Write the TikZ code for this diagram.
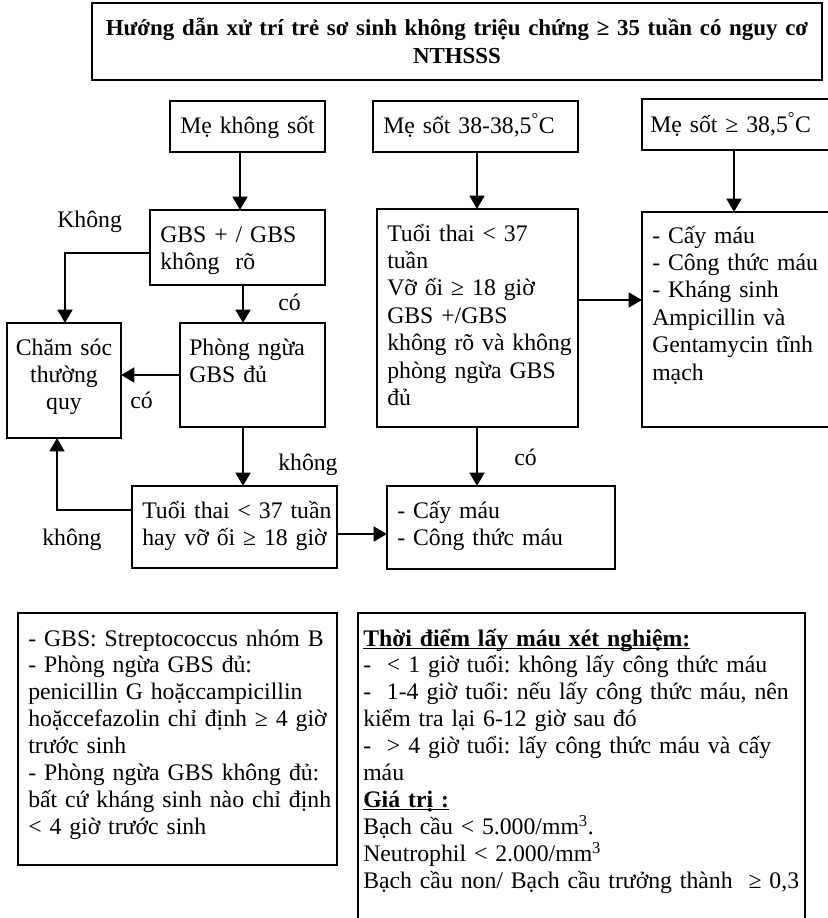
\documentclass[tikz,border=0pt]{standalone}
\usepackage{fontspec}
\setmainfont{Liberation Serif}
\usetikzlibrary{arrows.meta}
\newcommand\normfs{\fontsize{17.8pt}{20.6pt}\selectfont\frenchspacing}
\newcommand\notefs{\fontsize{17.8pt}{20.2pt}\selectfont\frenchspacing}
\newcommand\ulhead[1]{\underline{\smash{#1}}}
\newcommand\mybox[5]{\node[box, minimum width={(#4-#2)*0.75pt}, minimum height={(#5-#3)*0.75pt}] (#1) at (#2,#3) {};}
\begin{document}
\frenchspacing
\begin{tikzpicture}[x=0.75pt,y=-0.75pt,
  box/.style={draw, line width=1.6pt, inner sep=0pt, outer sep=0pt, anchor=north west},
  arr/.style={line width=2pt, -{Triangle[length=10pt,width=11pt]}},
  txt/.style={inner sep=0pt, anchor=base west, text width=450pt, align=left, font=\normfs},
  note/.style={inner sep=0pt, anchor=base west, text width=450pt, align=left, font=\notefs},
  ctxt/.style={inner sep=0pt, anchor=base, text width=80pt, align=center, font=\normfs},
  ttl/.style={inner sep=0pt, anchor=base, text width=600pt, align=center, font=\fontsize{17.2pt}{21pt}\selectfont\bfseries\frenchspacing},
  lbl/.style={inner sep=0pt, anchor=base west, font=\normfs}]
\useasboundingbox (0,0) rectangle (828,918);
\clip (0,0) rectangle (828,918);
% boxes
\mybox{title}{92}{3}{822}{80}
\mybox{mks}{170}{101}{325}{152}
\mybox{msa}{373}{101}{578}{152}
\mybox{msb}{642}{99}{840}{150}
\mybox{gbs}{150}{210}{325}{285}
\mybox{mid}{377}{209}{578}{427}
\mybox{rgt}{642}{212}{840}{427}
\mybox{cham}{7}{323}{121}{438}
\mybox{phong}{180}{323}{325}{427}
\mybox{tt}{132}{486}{337}{568}
\mybox{cay}{387}{486}{615}{569}
\mybox{nl}{18}{613}{337}{865}
\mybox{nr}{358}{613}{805}{935}
% texts
\node[ttl] (t-title) at (457,35) {Hướng dẫn xử trí trẻ sơ sinh không triệu chứng ≥ 35 tuần có nguy cơ\\NTHSSS};
\node[txt] (t-mks) at (180,133) {Mẹ không sốt};
\node[txt] (t-msa) at (383,133) {Mẹ sốt 38-38,5\textsuperscript{°}C};
\node[txt] (t-msb) at (650,132) {Mẹ sốt ≥ 38,5\textsuperscript{°}C};
\node[txt] (t-gbs) at (160,242) {GBS + / GBS\\không\ \ rõ};
\node[txt] (t-mid) at (387,241) {Tuổi thai < 37\\tuần\\Vỡ ối ≥ 18 giờ\\GBS +/GBS\\không rõ và không\\phòng ngừa GBS\\đủ};
\node[txt] (t-rgt) at (652,243) {- Cấy máu\\- Công thức máu\\- Kháng sinh\\Ampicillin và\\Gentamycin tĩnh\\mạch};
\node[ctxt] (t-cham) at (64,355) {Chăm sóc\\thường\\quy};
\node[txt] (t-phong) at (189,355) {Phòng ngừa\\GBS đủ};
\node[txt] (t-tt) at (142,518) {Tuổi thai < 37 tuần\\hay vỡ ối ≥ 18 giờ};
\node[txt] (t-cay) at (397,518) {- Cấy máu\\- Công thức máu};
\node[note] (t-nl) at (28,646) {- GBS: Streptococcus nhóm B\\- Phòng ngừa GBS đủ:\\penicillin G hoặccampicillin\\hoặccefazolin chỉ định ≥ 4 giờ\\trước sinh\\- Phòng ngừa GBS không đủ:\\bất cứ kháng sinh nào chỉ định\\< 4 giờ trước sinh};
\node[note] (t-nr) at (363,646) {\textbf{\ulhead{Thời điểm lấy máu xét nghiệm:}}\\-\ \ < 1 giờ tuổi: không lấy công thức máu\\-\ \ 1-4 giờ tuổi: nếu lấy công thức máu, nên\\kiểm tra lại 6-12 giờ sau đó\\-\ \ > 4 giờ tuổi: lấy công thức máu và cấy\\máu\\\textbf{\ulhead{Giá trị :}}\\Bạch cầu < 5.000/mm\textsuperscript{3}.\\Neutrophil < 2.000/mm\textsuperscript{3}\\Bạch cầu non/ Bạch cầu trưởng thành\ \ ≥ 0,3};
% connectors
\coordinate (a1) at (240,0);
\coordinate (a2) at (243,0);
\coordinate (a3) at (477,0);
\coordinate (a4) at (734,0);
\coordinate (k1) at (65,253);
\coordinate (k2) at (57,510);
\coordinate (k3) at (0,534);
\coordinate (k4) at (0,300);
\draw[arr] (a1 |- mks.south) -- (a1 |- gbs.north);
\draw[arr] (a2 |- gbs.south) -- (a2 |- phong.north);
\draw[arr] (gbs.west |- k1) -- (k1) -- (k1 |- cham.north);
\draw[arr] (phong.west) -- (phong.west -| cham.east);
\draw[arr] (a2 |- phong.south) -- (a2 |- tt.north);
\draw[arr] (tt.west |- k2) -- (k2) -- (k2 |- cham.south);
\draw[arr] (tt.east |- k3) -- (cay.west |- k3);
\draw[arr] (a3 |- msa.south) -- (a3 |- mid.north);
\draw[arr] (a3 |- mid.south) -- (a3 |- cay.north);
\draw[arr] (a4 |- msb.south) -- (a4 |- rgt.north);
\draw[arr] (mid.east |- k4) -- (rgt.west |- k4);
% labels
\node[lbl] (l1) at (57,227) {Không};
\node[lbl] (l2) at (278,310) {có};
\node[lbl] (l3) at (130,408) {có};
\node[lbl] (l4) at (278,470) {không};
\node[lbl] (l5) at (42,545) {không};
\node[lbl] (l6) at (514,465) {có};
\end{tikzpicture}
\end{document}
